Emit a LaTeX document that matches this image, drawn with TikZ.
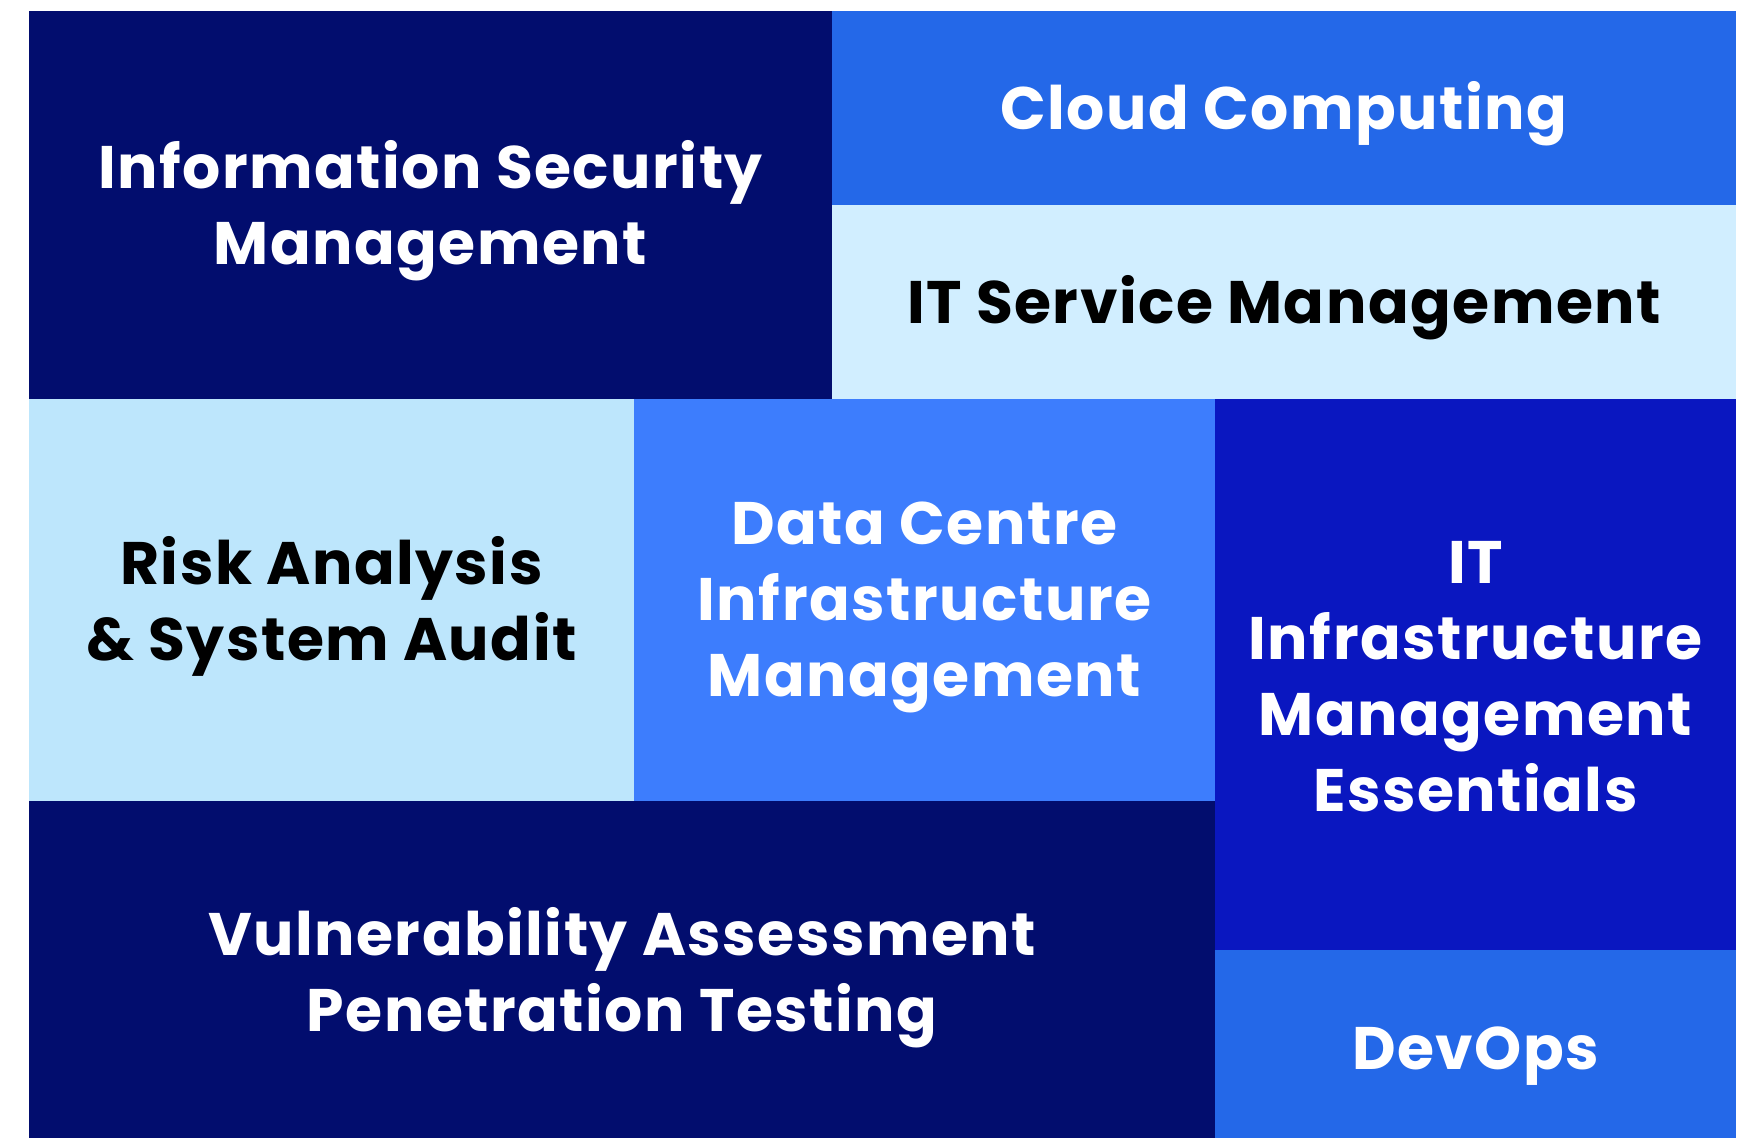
\documentclass[tikz,border=0pt]{standalone}
\usepackage{fontspec}
\setmainfont{Poppins}[BoldFont=* Bold, LetterSpace=2.5]
\definecolor{navy}{HTML}{020D6E}
\definecolor{midblue}{HTML}{2468E8}
\definecolor{paleblue}{HTML}{D1EEFF}
\definecolor{skyblue}{HTML}{BDE6FC}
\definecolor{brightblue}{HTML}{3D7DFD}
\definecolor{royal}{HTML}{0A17C0}
\begin{document}
\begin{tikzpicture}[x=1pt,y=-1pt,
  tile/.style={inner sep=0pt, outer sep=0pt, align=center, draw=none,
    font=\fontsize{60}{76}\selectfont\bfseries},
  light/.style={text=black},
  dark/.style={text=white}]
\useasboundingbox (0,0) rectangle (1745,1138);
\fill[white] (0,0) rectangle (1745,1138);
\fill[navy] (29,11) rectangle (832,399);
\node[tile,dark] (info) at (430.5,211) {Information Security\\Management};
\fill[midblue] (832,11) rectangle (1736,205);
\node[tile,dark] (cloud) at (1284,114) {Cloud Computing};
\fill[paleblue] (832,205) rectangle (1736,399);
\node[tile,light] (itsm) at (1284,308) {IT Service Management};
\fill[skyblue] (29,399) rectangle (634,801);
\node[tile,light] (risk) at (331.5,606) {Risk Analysis\\\& System Audit};
\fill[brightblue] (634,399) rectangle (1215,801);
\node[tile,dark] (dc) at (924.5,607) {Data Centre\\Infrastructure\\Management};
\fill[royal] (1215,399) rectangle (1736,950);
\node[tile,dark] (itim) at (1475.5,677) {IT\\Infrastructure\\Management\\Essentials};
\fill[navy] (29,801) rectangle (1215,1138);
\node[tile,dark] (vapt) at (622,978) {Vulnerability Assessment\\Penetration Testing};
\fill[midblue] (1215,950) rectangle (1736,1138);
\node[tile,dark] (devops) at (1475.5,1056) {DevOps};
\end{tikzpicture}
\end{document}
